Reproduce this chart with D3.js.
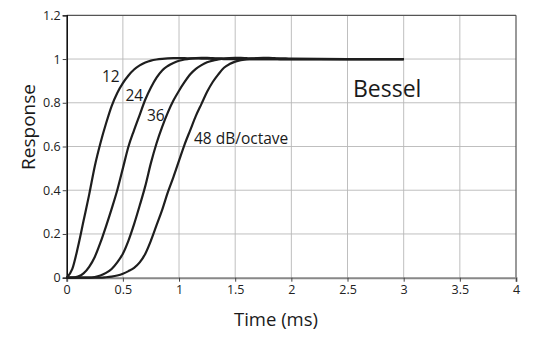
<!DOCTYPE html>
<html>
<head>
<meta charset="utf-8">
<script src="https://cdn.jsdelivr.net/npm/d3@7/dist/d3.min.js"></script>
<style>
  html, body { margin: 0; padding: 0; background: #fff; }
  svg { display: block; font-family: "Open Sans", "Noto Sans", sans-serif; }
</style>
</head>
<body>
<svg id="chart" width="540" height="341"></svg>
<script>
// ---- data ----
const times = [0,0.05,0.1,0.15,0.2,0.25,0.3,0.35,0.4,0.45,0.5,0.55,0.6,0.65,0.7,0.75,0.8,0.85,0.9,0.95,
  1.0,1.05,1.1,1.15,1.2,1.25,1.3,1.35,1.4,1.45,1.5,1.55,1.6,1.65,1.7,1.75,1.8,1.85,1.9,1.95,2.0,2.5,3.0];
const resp12 = [0,0.04,0.14,0.26,0.38,0.51,0.615,0.705,0.785,0.845,0.89,0.925,0.952,0.971,0.984,0.993,0.998,1.001,1.003,1.004,
  1.004,1.004,1.003,1.003,1.002,1.002,1.001,1.001,1,1,1,1,1,1,1,1,1,1,1,1,1,1,1];
const resp24 = [0,0,0.005,0.02,0.05,0.095,0.16,0.235,0.315,0.40,0.50,0.60,0.675,0.745,0.815,0.87,0.915,0.948,0.968,0.982,
  0.992,0.998,1.002,1.004,1.005,1.005,1.004,1.003,1.002,1.002,1.001,1.001,1,1,1,1,1,1,1,1,1,1,1];
const resp36 = [0,0,0,0,0,0.003,0.01,0.022,0.04,0.07,0.11,0.17,0.245,0.33,0.42,0.525,0.615,0.69,0.755,0.81,
  0.855,0.895,0.93,0.955,0.972,0.985,0.993,0.998,1.002,1.004,1.005,1.005,1.004,1.003,1.003,1.002,1.001,1.001,1,1,1,1,1];
const resp48 = [0,0,0,0,0,0,0,0.002,0.005,0.01,0.018,0.03,0.045,0.07,0.11,0.17,0.24,0.31,0.39,0.46,
  0.535,0.61,0.675,0.74,0.795,0.85,0.895,0.93,0.96,0.977,0.988,0.995,0.999,1.002,1.004,1.005,1.005,1.004,1.003,1.003,1.002,1,1];
const seriesLabels = ["12", "24", "36", "48 dB/octave"];
const xTicks = [0,0.5,1,1.5,2,2.5,3,3.5,4];
const yTicks = [0,0.2,0.4,0.6,0.8,1,1.2];
const xTitle = "Time (ms)";
const yTitle = "Response";
const chartTitle = "Bessel";

// ---- drawing ----
const svg = d3.select("#chart");
const L = 66.7, R = 516, T = 15.3, B = 277.7;
const x = d3.scaleLinear().domain([0, 4]).range([L, R]);
const y = d3.scaleLinear().domain([0, 1.2]).range([B, T]);

// grid
const grid = svg.append("g");
grid.selectAll("line.vx").data(xTicks.slice(1, -1)).join("line")
  .attr("x1", d => x(d)).attr("x2", d => x(d)).attr("y1", T).attr("y2", B)
  .attr("stroke", "#b8b8b8").attr("stroke-width", 0.9);
grid.selectAll("line.hy").data(yTicks.slice(1, -1)).join("line")
  .attr("x1", L).attr("x2", R).attr("y1", d => y(d)).attr("y2", d => y(d))
  .attr("stroke", "#b8b8b8").attr("stroke-width", 0.9);

// frame: top & right
svg.append("line").attr("x1", L).attr("x2", R).attr("y1", T).attr("y2", T)
  .attr("stroke", "#555").attr("stroke-width", 1.2);
svg.append("line").attr("x1", R).attr("x2", R).attr("y1", T).attr("y2", B)
  .attr("stroke", "#555").attr("stroke-width", 1.2);

// axes
const xAxis = d3.axisBottom(x).tickValues(xTicks).tickSize(4).tickPadding(3).tickFormat(d => String(d));
const yAxis = d3.axisLeft(y).tickValues(yTicks).tickSize(4).tickPadding(2).tickFormat(d => String(d));

const gx = svg.append("g").attr("transform", `translate(0,${B})`).call(xAxis);
gx.select(".domain").attr("stroke", "#888").attr("stroke-width", 2);
gx.selectAll(".tick line").attr("stroke", "#444");
gx.selectAll(".tick text").attr("font-size", 12.5).attr("fill", "#222")
  .attr("font-family", "'Open Sans', sans-serif");

const gy = svg.append("g").attr("transform", `translate(${L},0)`).call(yAxis);
gy.select(".domain").attr("stroke", "#111").attr("stroke-width", 1.6);
gy.selectAll(".tick line").attr("stroke", "#444");
gy.selectAll(".tick text").attr("font-size", 12.5).attr("fill", "#222")
  .attr("font-family", "'Open Sans', sans-serif");

// curves
const series = [resp12, resp24, resp36, resp48];
const line = d3.line().x(d => x(d[0])).y(d => y(d[1])).curve(d3.curveMonotoneX);
svg.append("g").selectAll("path").data(series).join("path")
  .attr("d", s => line(times.map((t, i) => [t, s[i]])))
  .attr("fill", "none").attr("stroke", "#1e1e1e").attr("stroke-width", 2.2)
  .attr("stroke-linejoin", "round");

// series labels
const labelPos = [[102, 82.3], [125.5, 100.7], [147, 121], [194, 144]];
svg.append("g").selectAll("text").data(seriesLabels).join("text")
  .attr("x", (d, i) => labelPos[i][0]).attr("y", (d, i) => labelPos[i][1])
  .attr("font-size", 15.5).attr("fill", "#1a1a1a").text(d => d);

// chart title
svg.append("text").attr("x", 353).attr("y", 96.5)
  .attr("font-size", 23).attr("fill", "#1a1a1a").text(chartTitle);

// axis titles
svg.append("text").attr("x", 276).attr("y", 325.5).attr("text-anchor", "middle")
  .attr("font-size", 18.5).attr("fill", "#1a1a1a").text(xTitle);
svg.append("text").attr("transform", "translate(35,127) rotate(-90)")
  .attr("text-anchor", "middle")
  .attr("font-size", 19).attr("fill", "#1a1a1a").text(yTitle);
</script>
</body>
</html>
